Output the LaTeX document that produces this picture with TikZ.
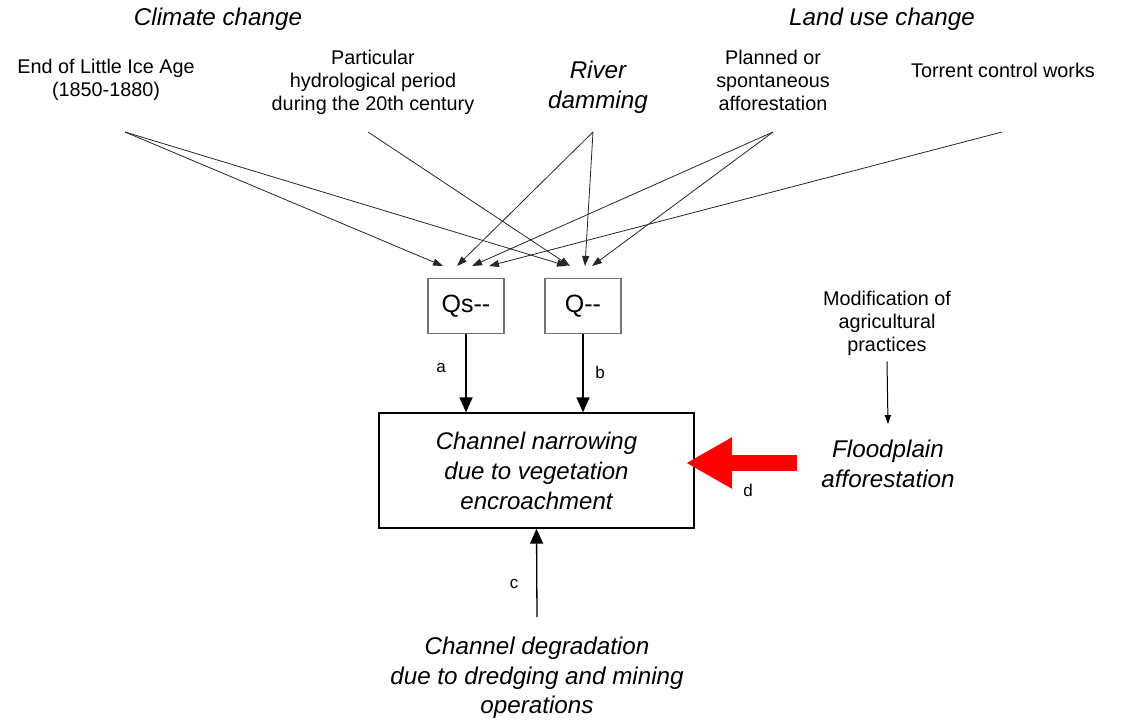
\documentclass[tikz,border=0pt]{standalone}
\usepackage{fontspec}
\setmainfont{Liberation Sans}
\usetikzlibrary{arrows.meta}

\tikzset{
    txt/.style={align=center, inner sep=0pt, font=\fontsize{19.8}{23}\selectfont},
    itxt/.style={align=center, inner sep=0pt, font=\fontsize{24.2}{29.5}\selectfont\itshape},
    qbox/.style={draw=black!55, line width=1.3pt, minimum width=76pt, minimum height=55pt, inner sep=0pt, font=\fontsize{25}{28}\selectfont},
    lbl/.style={inner sep=0pt, font=\fontsize{17}{20}\selectfont},
    cross/.style={line width=0.8pt, black!85, -{Triangle[length=10pt 0 0, width=7pt 0 0]}},
    link/.style={line width=1.3pt, -{Triangle[length=15pt 0 0, width=13pt 0 0]}},
    thinlink/.style={line width=1pt, -{Triangle[length=9pt 0 0, width=6pt 0 0]}},
    redarrow/.style={red, line width=16pt, -{Triangle[length=46pt 0 0, width=48pt 0 0]}},
}

\begin{document}
\begin{tikzpicture}[x=1pt, y=-1pt]
    \useasboundingbox (0,0) rectangle (1124,721);

    % Heading y-coordinates
    \def\yhead{19}
    \def\yorig{132}
    \def\yin{266}

    % Headings
    \node[itxt] (climate) at (218,\yhead) {Climate change};
    \node[itxt] (landuse) at (882,\yhead) {Land use change};

    % Causes
    \node[txt] (lia) at (106,80) {End of Little Ice Age\\(1850-1880)};
    \node[txt] (period) at (373,82) {Particular\\hydrological period\\during the 20th century};
    \node[itxt] (dam) at (598,87) {River\\damming};
    \node[txt] (affor) at (773,80) {Planned or\\spontaneous\\afforestation};
    \node[txt] (torrent) at (1003,70) {Torrent control works};

    % Discharges
    \node[qbox] (qs) at (466,306) {Qs-{}-};
    \node[qbox] (q) at (583,306) {Q-{}-};

    % Main box
    \node[draw, line width=1.3pt, minimum width=315pt, minimum height=115pt, itxt, font=\fontsize{24}{30}\selectfont\itshape] (main) at (536.5,470.5)
        {Channel narrowing\\due to vegetation\\encroachment};

    % Other causes
    \node[txt] (agri) at (887,323) {Modification of\\agricultural\\practices};
    \node[itxt] (flood) at (888,464) {Floodplain\\afforestation};
    \node[itxt] (degr) at (537,678) {Channel degradation\\due to dredging and mining\\operations};

    % Arrow origins and ends
    \coordinate (lia-o) at (125,\yorig);
    \coordinate (period-o) at (368,\yorig);
    \coordinate (dam-o) at (593,\yorig);
    \coordinate (affor-o) at (773,\yorig);
    \coordinate (torrent-o) at (1002,\yorig);
    \coordinate (qs-a) at (443,\yin);
    \coordinate (qs-b) at (457,\yin);
    \coordinate (qs-c) at (472,\yin);
    \coordinate (qs-d) at (489,\yin);
    \coordinate (q-a) at (567,\yin);
    \coordinate (q-b) at (570,\yin);
    \coordinate (q-c) at (585,\yin);
    \coordinate (q-d) at (592,\yin);

    % Crossing arrows
    \draw[cross] (lia-o) -- (qs-a);
    \draw[cross] (lia-o) -- (q-a);
    \draw[cross] (period-o) -- (q-b);
    \draw[cross] (dam-o) -- (qs-b);
    \draw[cross] (dam-o) -- (q-c);
    \draw[cross] (affor-o) -- (qs-c);
    \draw[cross] (affor-o) -- (q-d);
    \draw[cross] (torrent-o) -- (qs-d);

    % Links to main box
    \draw[link] (qs.south) -- (qs.south |- main.north);
    \draw[link] (q.south) -- (q.south |- main.north);
    \draw[link] ([yshift=20pt]degr.north) -- (main.south);
    \draw[thinlink] ([yshift=-6pt]agri.south) -- ([yshift=16pt]flood.north);

    % Red arrow
    \coordinate (d-tail) at (797,463);
    \coordinate (d-tip) at (686,463);
    \draw[redarrow] (d-tail) -- (d-tip);

    % Labels
    \node[lbl] (la) at (441,368) {a};
    \node[lbl] (lb) at (600,372) {b};
    \node[lbl] (lc) at (514,584) {c};
    \node[lbl] (ld) at (748,490) {d};
\end{tikzpicture}
\end{document}
